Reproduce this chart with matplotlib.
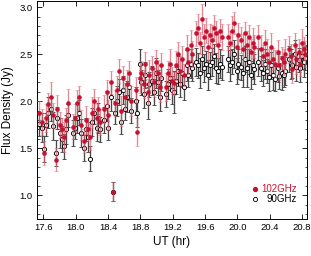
import matplotlib
matplotlib.use("Agg")
import matplotlib.pyplot as plt
from matplotlib.ticker import MultipleLocator
import numpy as np

plt.rcParams['font.family'] = ['Liberation Sans', 'DejaVu Sans']

# UT times (hr), grouped in scans
ut = [
    17.55, 17.58, 17.61, 17.63, 17.66, 17.69, 17.72, 17.75, 17.77, 17.80, 17.83, 17.85, 17.88, 17.90,
    17.96, 17.99, 18.02, 18.04, 18.07, 18.10, 18.12, 18.15, 18.18, 18.20, 18.23, 18.26, 18.28, 18.30,
    18.35, 18.38, 18.40, 18.43, 18.46, 18.48, 18.51, 18.53, 18.56, 18.58, 18.61, 18.63, 18.66, 18.68,
    18.74, 18.76, 18.79, 18.81, 18.84, 18.86, 18.89, 18.91, 18.94, 18.97, 18.99, 19.02, 19.04, 19.06,
    19.11, 19.14, 19.16, 19.19, 19.21, 19.24, 19.27, 19.29, 19.32, 19.34, 19.37, 19.39, 19.42, 19.44,
    19.49, 19.51, 19.54, 19.56, 19.59, 19.61, 19.64, 19.66, 19.69, 19.71, 19.74, 19.76, 19.79, 19.81,
    19.88, 19.91, 19.93, 19.96, 19.99, 20.01, 20.04, 20.07, 20.09, 20.12, 20.14, 20.17, 20.19, 20.21,
    20.26, 20.29, 20.31, 20.34, 20.36, 20.39, 20.42, 20.44, 20.47, 20.50, 20.52, 20.55, 20.57, 20.59,
    20.64, 20.66, 20.68, 20.71, 20.73, 20.76, 20.78, 20.80, 20.82, 20.84,
]

flux_102 = [
    1.88, 1.78, 1.45, 1.82, 1.97, 2.04, 1.85, 1.38, 1.92, 1.75, 1.70, 1.62, 1.80, 1.98,
    1.73, 1.82, 1.98, 2.04, 1.75, 1.58, 1.80, 1.70, 1.62, 1.88, 2.00, 1.82, 1.92, 1.78,
    1.92, 2.10, 1.85, 2.20, 1.04, 1.98, 2.12, 2.32, 1.90, 2.25, 2.05, 2.18, 2.30, 2.00,
    2.12, 1.67, 2.25, 2.30, 2.18, 2.40, 2.10, 2.28, 2.35, 2.20, 2.42, 2.30, 2.15, 2.38,
    2.15, 2.30, 2.40, 2.22, 2.19, 2.38, 2.50, 2.32, 2.45, 2.28, 2.55, 2.42, 2.60, 2.50,
    2.72, 2.78, 2.62, 2.87, 2.68, 2.75, 2.58, 2.70, 2.65, 2.78, 2.72, 2.60, 2.75, 2.68,
    2.68, 2.62, 2.75, 2.83, 2.58, 2.70, 2.65, 2.55, 2.72, 2.60, 2.68, 2.52, 2.62, 2.58,
    2.68, 2.55, 2.48, 2.62, 2.50, 2.42, 2.58, 2.45, 2.40, 2.52, 2.38, 2.46, 2.42, 2.50,
    2.55, 2.48, 2.34, 2.60, 2.45, 2.52, 2.40, 2.62, 2.56, 2.50,
]
err_102 = [
    0.12, 0.14, 0.13, 0.15, 0.12, 0.16, 0.13, 0.12, 0.15, 0.14, 0.12, 0.16, 0.13, 0.15,
    0.13, 0.15, 0.14, 0.12, 0.16, 0.13, 0.15, 0.12, 0.14, 0.16, 0.13, 0.15, 0.12, 0.14,
    0.15, 0.13, 0.16, 0.12, 0.10, 0.14, 0.15, 0.13, 0.16, 0.12, 0.14, 0.15, 0.13, 0.16,
    0.14, 0.15, 0.16, 0.13, 0.15, 0.12, 0.14, 0.16, 0.13, 0.15, 0.12, 0.14, 0.16, 0.13,
    0.15, 0.13, 0.16, 0.14, 0.12, 0.15, 0.13, 0.16, 0.14, 0.12, 0.15, 0.13, 0.16, 0.14,
    0.13, 0.15, 0.12, 0.16, 0.14, 0.13, 0.15, 0.12, 0.16, 0.14, 0.13, 0.15, 0.12, 0.14,
    0.14, 0.13, 0.16, 0.12, 0.15, 0.13, 0.14, 0.16, 0.12, 0.15, 0.13, 0.14, 0.16, 0.12,
    0.13, 0.15, 0.12, 0.14, 0.16, 0.13, 0.15, 0.12, 0.14, 0.13, 0.15, 0.12, 0.14, 0.16,
    0.14, 0.13, 0.15, 0.12, 0.16, 0.14, 0.13, 0.15, 0.12, 0.14,
]

flux_90 = [
    1.76, 1.72, 1.49, 1.75, 1.88, 1.92, 1.74, 1.45, 1.82, 1.66, 1.60, 1.52, 1.70, 1.85,
    1.66, 1.72, 1.82, 1.88, 1.66, 1.50, 1.70, 1.62, 1.39, 1.78, 1.88, 1.72, 1.82, 1.70,
    1.80, 1.95, 1.72, 2.05, 1.04, 1.88, 2.00, 2.10, 1.78, 2.12, 1.92, 2.05, 2.15, 1.90,
    2.00, 1.87, 2.40, 2.20, 2.08, 2.28, 1.98, 2.18, 2.22, 2.10, 2.30, 2.20, 2.05, 2.25,
    2.08, 2.18, 2.25, 2.12, 2.10, 2.22, 2.32, 2.18, 2.30, 2.15, 2.38, 2.28, 2.40, 2.35,
    2.42, 2.38, 2.30, 2.45, 2.35, 2.40, 2.28, 2.38, 2.42, 2.48, 2.35, 2.32, 2.40, 2.36,
    2.45, 2.38, 2.42, 2.50, 2.32, 2.40, 2.36, 2.30, 2.45, 2.35, 2.42, 2.28, 2.38, 2.34,
    2.42, 2.35, 2.30, 2.40, 2.32, 2.26, 2.38, 2.28, 2.24, 2.35, 2.27, 2.30, 2.28, 2.32,
    2.45, 2.40, 2.38, 2.50, 2.36, 2.44, 2.35, 2.48, 2.42, 2.46,
]
err_90 = [
    0.13, 0.15, 0.14, 0.12, 0.16, 0.13, 0.15, 0.14, 0.12, 0.16, 0.14, 0.13, 0.15, 0.12,
    0.14, 0.12, 0.16, 0.13, 0.15, 0.14, 0.12, 0.16, 0.13, 0.15, 0.12, 0.14, 0.16, 0.13,
    0.14, 0.16, 0.13, 0.15, 0.10, 0.12, 0.16, 0.14, 0.13, 0.15, 0.12, 0.16, 0.14, 0.13,
    0.15, 0.14, 0.16, 0.13, 0.15, 0.14, 0.17, 0.13, 0.15, 0.14, 0.16, 0.13, 0.15, 0.14,
    0.14, 0.16, 0.13, 0.15, 0.22, 0.14, 0.16, 0.13, 0.15, 0.14, 0.16, 0.13, 0.15, 0.14,
    0.15, 0.13, 0.16, 0.14, 0.15, 0.13, 0.16, 0.14, 0.15, 0.13, 0.16, 0.14, 0.15, 0.13,
    0.14, 0.16, 0.13, 0.15, 0.14, 0.16, 0.13, 0.15, 0.14, 0.20, 0.13, 0.15, 0.14, 0.16,
    0.15, 0.13, 0.14, 0.16, 0.13, 0.15, 0.14, 0.16, 0.13, 0.15, 0.14, 0.18, 0.13, 0.15,
    0.14, 0.16, 0.13, 0.15, 0.14, 0.13, 0.15, 0.14, 0.16, 0.13,
]

red = '#c8102e'

fig = plt.figure(figsize=(3.11, 2.56), dpi=100)
ax = fig.add_axes([0.119, 0.145, 0.868, 0.853])

ax.errorbar(ut, flux_90, yerr=err_90, fmt='o', ms=3.0, mfc='white', mec='black',
            mew=0.65, ecolor='#484848', elinewidth=0.95, capsize=1.1, capthick=0.6, zorder=2)
ax.errorbar(ut, flux_102, yerr=err_102, fmt='o', ms=2.8, mfc=red, mec=red,
            mew=0.4, ecolor=(0.86, 0.38, 0.45, 0.75), elinewidth=0.95, capsize=1.1,
            capthick=0.6, zorder=3)

ax.set_xlim(17.52, 20.86)
ax.set_ylim(0.75, 3.07)
ax.xaxis.set_major_locator(MultipleLocator(0.4))
ax.yaxis.set_major_locator(MultipleLocator(0.5))
ax.yaxis.set_minor_locator(MultipleLocator(0.1))
ax.tick_params(which='both', direction='in', top=True, right=True, labelsize=6.8, pad=3)
ax.tick_params(which='major', length=3.5, width=0.6)
ax.tick_params(which='minor', length=1.8, width=0.5)
for s in ax.spines.values():
    s.set_linewidth(0.7)

ax.set_xlabel('UT (hr)', fontsize=8.5, labelpad=3)
ax.set_ylabel('Flux Density (Jy)', fontsize=8.5, labelpad=4)

# legend drawn by hand so texts sit right-aligned like the original
ax.plot([0.807], [0.137], 'o', ms=2.8, color=red, transform=ax.transAxes)
ax.plot([0.807], [0.091], 'o', ms=3.0, mfc='white', mec='black', mew=0.6,
        transform=ax.transAxes)
ax.text(0.963, 0.137, '102GHz', color=red, fontsize=7, ha='right', va='center',
        transform=ax.transAxes)
ax.text(0.963, 0.091, '90GHz', color='black', fontsize=7, ha='right', va='center',
        transform=ax.transAxes)

fig.savefig('out.png', dpi=100)
